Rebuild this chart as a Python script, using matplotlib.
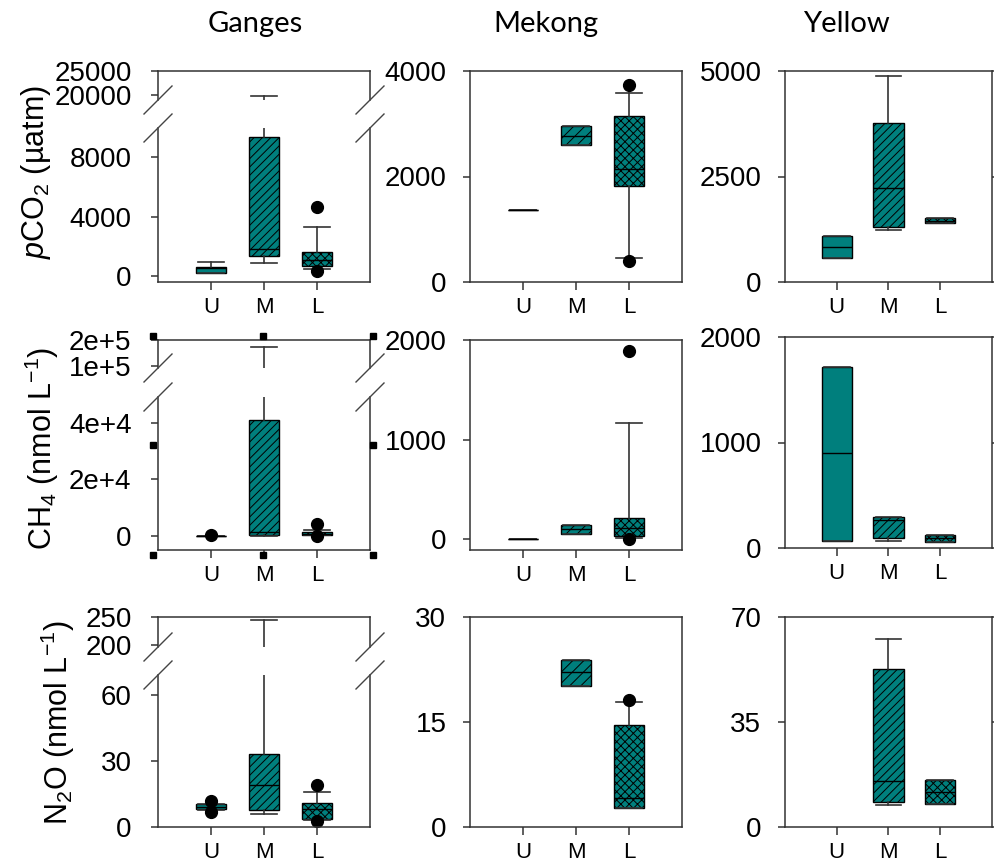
import matplotlib
matplotlib.use("Agg")
import matplotlib.pyplot as plt
from matplotlib.lines import Line2D

plt.rcParams["font.family"] = ["Liberation Sans", "DejaVu Sans"]
plt.rcParams["mathtext.fontset"] = "custom"
plt.rcParams["mathtext.rm"] = "Liberation Sans"
plt.rcParams["mathtext.it"] = "Liberation Sans:italic"
plt.rcParams["mathtext.default"] = "regular"
plt.rcParams["hatch.linewidth"] = 0.7
plt.rcParams["hatch.color"] = "black"

# ---------------------------------------------------------------
# Daten: je Standort (whislo, q1, median, q3, whishi)
# ---------------------------------------------------------------
sites = ["U", "M", "L"]
rivers = ["Ganges", "Mekong", "Yellow"]

ganges_pco2 = [(220, 220, 520, 620, 950), (850, 1340, 1830, 9320, 19800), (450, 670, 1080, 1630, 3320)]
ganges_pco2_out = [[], [], [4620, 350]]
mekong_pco2 = [(1357, 1357, 1357, 1357, 1357), (2593, 2593, 2764, 2953, 2953), (454, 1817, 2145, 3155, 3578)]
mekong_pco2_out = [[], [], [3742, 391]]
yellow_pco2 = [(578, 578, 832, 1093, 1093), (1236, 1315, 2234, 3762, 4873), (1394, 1394, 1450, 1505, 1505)]
yellow_pco2_out = [[], [], []]

ganges_ch4 = [(50, 50, 50, 50, 50), (100, 300, 1420, 41170, 175000), (300, 300, 800, 1200, 2100)]
ganges_ch4_out = [[200], [], [4100, 100]]
mekong_ch4 = [(5, 5, 5, 5, 5), (53, 53, 100, 143, 143), (10, 27, 115, 213, 1167)]
mekong_ch4_out = [[], [], [1893, 5]]
yellow_ch4 = [(69, 69, 898, 1717, 1717), (69, 98, 268, 293, 293), (57, 57, 94, 126, 126)]
yellow_ch4_out = [[], [], []]

ganges_n2o = [(7.8, 8.0, 9.0, 10.3, 10.5), (6.0, 7.5, 19.0, 33.0, 245.0), (3.0, 3.8, 8.2, 11.0, 16.0)]
ganges_n2o_out = [[11.6, 7.0], [], [19.0, 2.5]]
mekong_n2o = [None, (20.2, 20.2, 22.2, 23.9, 23.9), (2.7, 2.7, 4.1, 14.6, 17.8)]
mekong_n2o_out = [[], [], [18.1]]
yellow_n2o = [None, (7.4, 8.2, 15.4, 52.7, 62.8), (7.6, 7.6, 11.8, 15.7, 15.7)]
yellow_n2o_out = [[], [], []]

# Achsen: (ylim, ticks, ticklabels)
ganges_limits = [
    [((19000, 25000), [20000, 25000], ["20000", "25000"]),
     ((-400, 9950), [0, 4000, 8000], ["0", "4000", "8000"])],
    [((93000, 200000), [100000, 200000], ["1e+5", "2e+5"]),
     ((-5000, 49200), [0, 20000, 40000], ["0", "2e+4", "4e+4"])],
    [((197, 250), [200, 250], ["200", "250"]),
     ((0, 69), [0, 30, 60], ["0", "30", "60"])],
]
mekong_limits = [((0, 4000), [0, 2000, 4000]), ((-110, 2000), [0, 1000, 2000]), ((0, 30), [0, 15, 30])]
yellow_limits = [((0, 5000), [0, 2500, 5000]), ((0, 2000), [0, 1000, 2000]), ((0, 70), [0, 35, 70])]

ylabels = [r"$\mathit{p}$CO$_2$ (µatm)", r"CH$_4$ (nmol L$^{-1}$)", r"N$_2$O (nmol L$^{-1}$)"]

FILL = "#007f7d"
W, H = 995, 867

fig = plt.figure(figsize=(W / 100, H / 100), dpi=100)


def ax_at(x0, x1, y0, y1):
    """Achse aus Pixelgrenzen (oben links Ursprung)."""
    return fig.add_axes([x0 / W, 1 - y1 / H, (x1 - x0) / W, (y1 - y0) / H])


def stats_from(rows, outs):
    st, pos = [], []
    for i, (r, o) in enumerate(zip(rows, outs)):
        if r is None:
            continue
        lo, q1, med, q3, hi = r
        st.append(dict(whislo=lo, q1=q1, med=med, q3=q3, whishi=hi, fliers=o))
        pos.append(i + 1)
    return st, pos


def draw_boxes(ax, rows, outs, hatches):
    st, pos = stats_from(rows, outs)
    bp = ax.bxp(st, positions=pos, widths=0.58, capwidths=0.5, patch_artist=True,
                boxprops=dict(facecolor=FILL, edgecolor="black", lw=1.0),
                medianprops=dict(color="black", lw=1.0),
                whiskerprops=dict(color="#333333", lw=1.2),
                capprops=dict(color="#333333", lw=1.2),
                flierprops=dict(marker="o", mfc="black", mec="black", ms=8.5))
    for patch, p in zip(bp["boxes"], pos):
        patch.set_hatch(hatches[p - 1])
    ax.set_xlim(0, 4)


def style(ax, pad=12, xlabels=True, right_tick=False):
    for s in ax.spines.values():
        s.set_color("#333333")
        s.set_linewidth(1.1)
    ax.tick_params(axis="y", direction="out", length=5, width=1.1, color="#333333",
                   labelsize=20, pad=pad, right=right_tick)
    ax.tick_params(axis="x", direction="out", length=6, width=1.1, color="#333333",
                   labelsize=16, pad=5)
    ax.set_xticks([1, 2, 3])
    if xlabels:
        ax.set_xticklabels(sites)
    else:
        ax.set_xticks([])


def slashes(ax_top, ax_bot):
    """Bruchmarken an beiden Seiten."""
    d = 14
    for ax, edge in ((ax_top, "bottom"), (ax_bot, "top")):
        bb = ax.get_position()
        y = bb.y0 if edge == "bottom" else bb.y1
        for x in (bb.x0, bb.x1):
            fig.add_artist(Line2D([x - d / W, x + d / W], [y - d / H, y + d / H],
                                  transform=fig.transFigure, color="#444444", lw=1.0))


hatch_g = ["", "////", "xxxx"]
hatch_m = ["", "///", "xxxx"]
hatch_y = ["", "////", "xxxx"]

rows_px = [(71, 282), (340, 550), (617, 827)]
split_px = [(100, 128), (368, 397), (647, 675)]

ganges_data = [(ganges_pco2, ganges_pco2_out), (ganges_ch4, ganges_ch4_out), (ganges_n2o, ganges_n2o_out)]
mekong_data = [(mekong_pco2, mekong_pco2_out), (mekong_ch4, mekong_ch4_out), (mekong_n2o, mekong_n2o_out)]
yellow_data = [(yellow_pco2, yellow_pco2_out), (yellow_ch4, yellow_ch4_out), (yellow_n2o, yellow_n2o_out)]

for r in range(3):
    top, bot = rows_px[r]
    s_top, s_bot = split_px[r]

    # Ganges: gebrochene Achse
    ax_u = ax_at(158, 370, top, s_top)
    ax_l = ax_at(158, 370, s_bot, bot)
    rows, outs = ganges_data[r]
    for ax, (lim, ticks, labels) in zip((ax_u, ax_l), ganges_limits[r]):
        draw_boxes(ax, rows, outs, hatch_g)
        ax.set_ylim(*lim)
        ax.set_yticks(ticks)
        ax.set_yticklabels(labels)
    style(ax_u, pad=14, xlabels=False)
    style(ax_l, pad=14)
    ax_u.spines["bottom"].set_visible(False)
    ax_l.spines["top"].set_visible(False)
    slashes(ax_u, ax_l)

    # Mekong
    ax_m = ax_at(470, 682, top, bot)
    rows, outs = mekong_data[r]
    draw_boxes(ax_m, rows, outs, hatch_m)
    ax_m.set_ylim(*mekong_limits[r][0])
    ax_m.set_yticks(mekong_limits[r][1])
    style(ax_m)

    # Yellow
    ax_y = ax_at(785, 992, top - (3 if r == 1 else 0), bot - (2 if r == 1 else 0))
    rows, outs = yellow_data[r]
    draw_boxes(ax_y, rows, outs, hatch_y)
    ax_y.set_ylim(*yellow_limits[r][0])
    ax_y.set_yticks(yellow_limits[r][1])
    style(ax_y, right_tick=True)

# Spaltentitel und y-Beschriftungen
for name, x in zip(rivers, (255, 546, 846)):
    fig.text(x / W, 1 - 24 / H, name, ha="center", va="center", fontsize=21,
             family=["Lato", "DejaVu Sans"])
for lab, (x, y) in zip(ylabels, ((36, 172), (42, 448), (58, 723))):
    fig.text(x / W, 1 - y / H, lab, rotation=90, ha="center", va="center", fontsize=22)

# Markierungsquadrate (Auswahlrahmen) um das CH4-Panel
hx = [153, 263, 373]
hy = [336, 445, 555]
pts = [(x, y) for y in hy for x in hx if not (x == 263 and y == 445)]
fig.add_artist(Line2D([p[0] / W for p in pts], [1 - p[1] / H for p in pts],
                      transform=fig.transFigure, marker="s", ls="none", ms=5,
                      color="black"))

fig.savefig("out.png", dpi=100, facecolor="white")
